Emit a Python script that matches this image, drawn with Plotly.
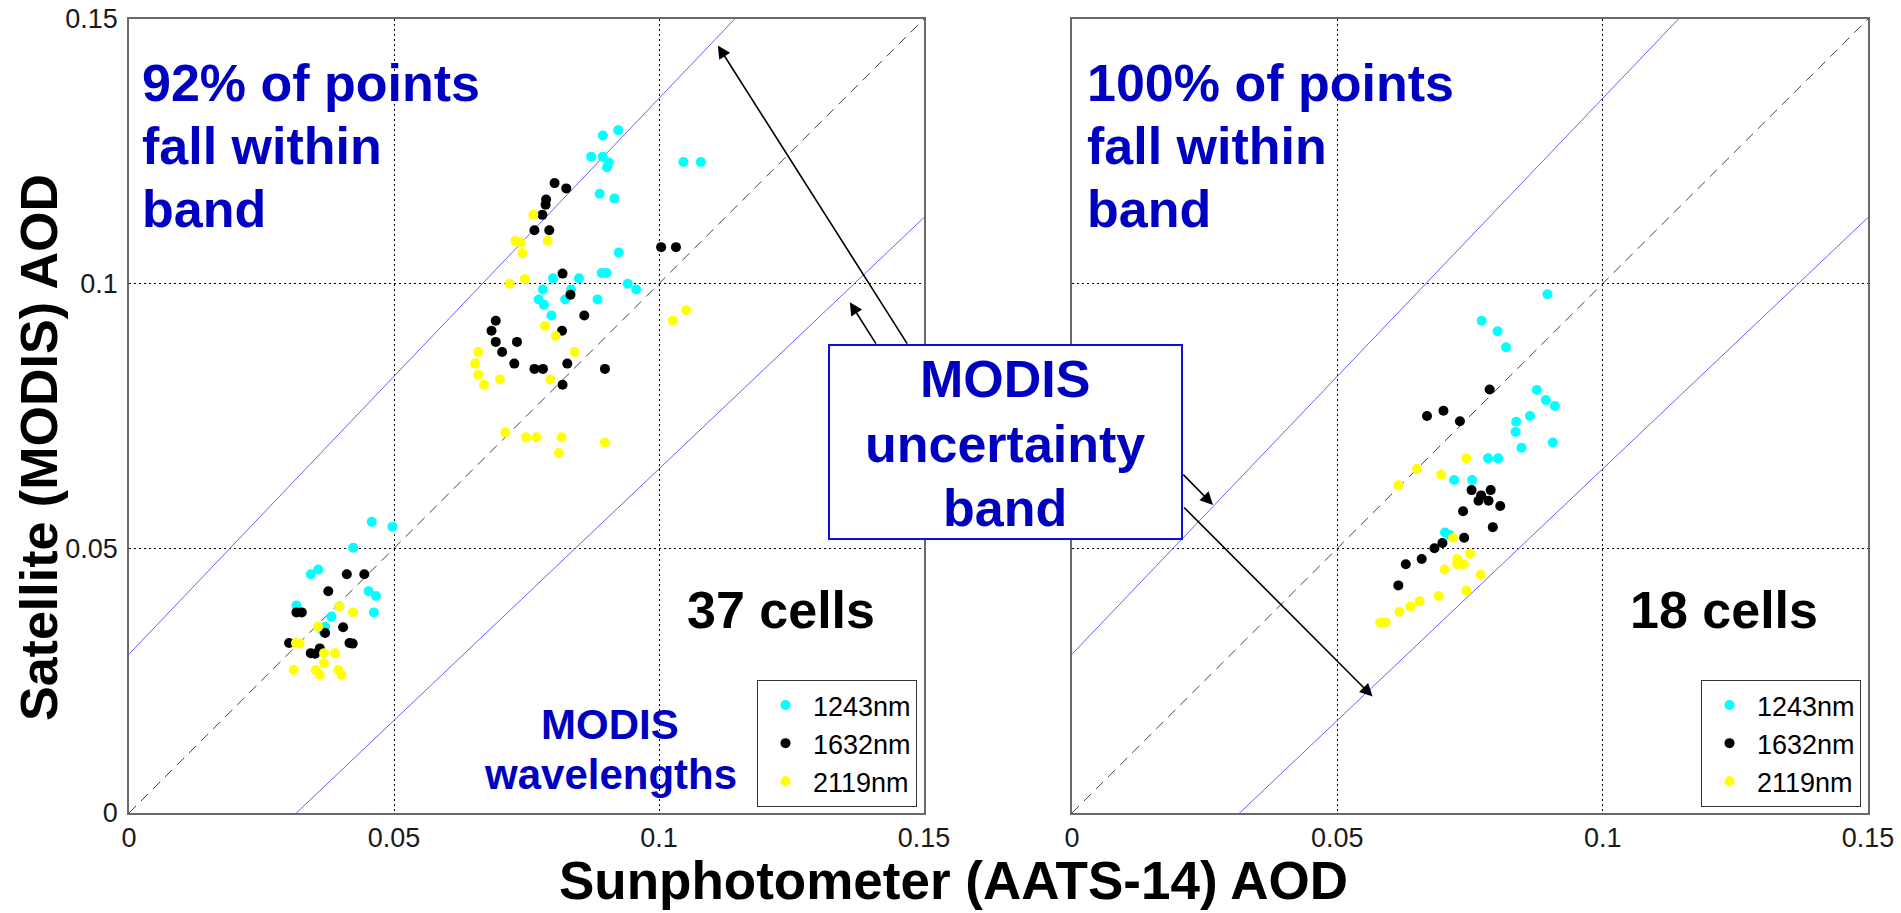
import plotly.graph_objects as go

W, H = 1901, 913
FONT = "Liberation Sans, Arial, sans-serif"
BLUE_TXT = "#0000C0"

wavelengths = ["1243nm", "1632nm", "2119nm"]
colors = ["#00FFFF", "#000000", "#FFFF00"]

# ---------------- Left panel (37 cells) ----------------
L_1243_x = [0.0923, 0.0894, 0.0872, 0.0894, 0.0905, 0.0902, 0.1046, 0.1079, 0.0888, 0.0916,
            0.0924, 0.0892, 0.0901, 0.0800, 0.0849, 0.0941, 0.0957, 0.0781, 0.0834, 0.0773,
            0.0783, 0.0823, 0.0884, 0.0797,
            0.0458, 0.0497, 0.0423, 0.0343, 0.0357, 0.0452, 0.0466, 0.0462, 0.0316, 0.0382,
            0.0370, 0.0397, 0.0365]
L_1243_y = [0.1290, 0.1280, 0.1240, 0.1240, 0.1229, 0.1220, 0.1230, 0.1230, 0.1170, 0.1161,
            0.1059, 0.1020, 0.1020, 0.1010, 0.1010, 0.1000, 0.0989, 0.0989, 0.0989, 0.0970,
            0.0960, 0.0970, 0.0970, 0.0940,
            0.0550, 0.0541, 0.0501, 0.0451, 0.0460, 0.0419, 0.0410, 0.0379, 0.0392, 0.0371,
            0.0352, 0.0390, 0.0345]

L_1632_x = [0.0803, 0.0825, 0.0787, 0.0786, 0.0780, 0.0765, 0.0793, 0.1004, 0.1032, 0.0818,
            0.0833, 0.0859, 0.0692, 0.0684, 0.0817, 0.0692, 0.0732, 0.0704, 0.0727, 0.0827,
            0.0765, 0.0781, 0.0898, 0.0818,
            0.0411, 0.0444, 0.0376, 0.0316, 0.0326, 0.0404, 0.0370, 0.0302, 0.0416, 0.0360,
            0.0343, 0.0351, 0.0422]
L_1632_y = [0.1190, 0.1180, 0.1159, 0.1149, 0.1130, 0.1101, 0.1101, 0.1069, 0.1069, 0.1019,
            0.0979, 0.0940, 0.0930, 0.0911, 0.0911, 0.0890, 0.0890, 0.0871, 0.0849, 0.0849,
            0.0839, 0.0839, 0.0839, 0.0809,
            0.0451, 0.0451, 0.0419, 0.0379, 0.0379, 0.0351, 0.0340, 0.0321, 0.0321, 0.0311,
            0.0302, 0.0301, 0.0320]

L_2119_x = [0.0763, 0.0729, 0.0739, 0.0790, 0.0742, 0.0718, 0.0747, 0.1026, 0.1051, 0.0785,
            0.0805, 0.0841, 0.0659, 0.0653, 0.0659, 0.0670, 0.0700, 0.0795, 0.0710, 0.0749,
            0.0769, 0.0816, 0.0811, 0.0898,
            0.0397, 0.0423, 0.0357, 0.0315, 0.0322, 0.0368, 0.0389, 0.0368, 0.0311, 0.0352,
            0.0395, 0.0360, 0.0401]
L_2119_y = [0.1130, 0.1081, 0.1078, 0.1081, 0.1058, 0.1000, 0.1009, 0.0930, 0.0950, 0.0920,
            0.0901, 0.0871, 0.0871, 0.0849, 0.0828, 0.0809, 0.0819, 0.0819, 0.0719, 0.0710,
            0.0710, 0.0710, 0.0680, 0.0700,
            0.0390, 0.0379, 0.0352, 0.0321, 0.0320, 0.0302, 0.0302, 0.0283, 0.0270, 0.0270,
            0.0270, 0.0261, 0.0261]

# ---------------- Right panel (18 cells) ----------------
R_1243_x = [0.0896, 0.0772, 0.0802, 0.0818, 0.0876, 0.0893, 0.0910, 0.0863, 0.0837, 0.0836,
            0.0847, 0.0906, 0.0784, 0.0803, 0.0720, 0.0754, 0.0703, 0.0712]
R_1243_y = [0.0980, 0.0930, 0.0910, 0.0880, 0.0799, 0.0780, 0.0769, 0.0750, 0.0739, 0.0720,
            0.0690, 0.0700, 0.0670, 0.0670, 0.0629, 0.0629, 0.0530, 0.0525]

R_1632_x = [0.0787, 0.0669, 0.0700, 0.0731, 0.0753, 0.0789, 0.0766, 0.0771, 0.0785, 0.0807,
            0.0737, 0.0793, 0.0739, 0.0698, 0.0683, 0.0659, 0.0629, 0.0615]
R_1632_y = [0.0800, 0.0750, 0.0760, 0.0740, 0.0610, 0.0610, 0.0590, 0.0600, 0.0590, 0.0580,
            0.0570, 0.0540, 0.0520, 0.0510, 0.0500, 0.0480, 0.0470, 0.0430]

R_2119_x = [0.0615, 0.0650, 0.0696, 0.0743, 0.0718, 0.0750, 0.0726, 0.0738, 0.0726, 0.0702,
            0.0770, 0.0743, 0.0691, 0.0655, 0.0638, 0.0617, 0.0581, 0.0591]
R_2119_y = [0.0619, 0.0650, 0.0639, 0.0670, 0.0520, 0.0490, 0.0480, 0.0470, 0.0470, 0.0460,
            0.0450, 0.0420, 0.0410, 0.0400, 0.0390, 0.0380, 0.0360, 0.0360]

# axes / reference lines
axis_range = [0.0, 0.15]
tick_vals = [0.0, 0.05, 0.1, 0.15]
tick_text = ["0", "0.05", "0.1", "0.15"]
band_offset = 0.03      # MODIS uncertainty: +/- (0.03 + 0.05*tau)
band_slope = 0.05

panels = [
    ("x", "y", "legend", [(L_1243_x, L_1243_y), (L_1632_x, L_1632_y), (L_2119_x, L_2119_y)]),
    ("x2", "y2", "legend2", [(R_1243_x, R_1243_y), (R_1632_x, R_1632_y), (R_2119_x, R_2119_y)]),
]

fig = go.Figure()
line_x = axis_range
for xa, ya, leg, series in panels:
    # 1:1 line
    fig.add_trace(go.Scatter(x=line_x, y=line_x, mode="lines", xaxis=xa, yaxis=ya,
                             line=dict(color="#444444", width=1, dash="10px,7px"),
                             showlegend=False, hoverinfo="skip"))
    # uncertainty band
    up = [v + band_offset + band_slope * v for v in line_x]
    lo = [v - band_offset - band_slope * v for v in line_x]
    for yy in (up, lo):
        fig.add_trace(go.Scatter(x=line_x, y=yy, mode="lines", xaxis=xa, yaxis=ya,
                                 line=dict(color="#6464FF", width=1),
                                 showlegend=False, hoverinfo="skip"))
    for (sx, sy), name, col in zip(series, wavelengths, colors):
        fig.add_trace(go.Scatter(x=sx, y=sy, mode="markers", name=name, xaxis=xa, yaxis=ya,
                                 legend=leg,
                                 marker=dict(color=col, size=10, line=dict(width=0))))


def px(xp):
    return xp / W


def py(yp):
    return 1 - yp / H


x_dom_L = [px(129), px(924)]
x_dom_R = [px(1072), px(1868)]
y_dom = [py(813), py(19)]

axis_common = dict(range=axis_range, tickvals=tick_vals, ticktext=tick_text,
                   showline=True, linecolor="#6a6a6a", linewidth=1.5, mirror=True,
                   showgrid=True, gridcolor="#000000", gridwidth=1, griddash="2px,3px",
                   zeroline=False, ticks="", automargin=False,
                   tickfont=dict(family=FONT, size=27, color="#1a1a1a"))

legend_common = dict(xanchor="right", yanchor="bottom", bgcolor="white",
                     bordercolor="#333333", borderwidth=1, itemwidth=45,
                     font=dict(family=FONT, size=27, color="black"), tracegroupgap=0)

fig.update_layout(
    template="none",
    width=W, height=H, autosize=False,
    margin=dict(l=0, r=0, t=0, b=0, pad=0, autoexpand=False),
    paper_bgcolor="white", plot_bgcolor="white",
    xaxis=dict(domain=x_dom_L, anchor="y", **axis_common),
    yaxis=dict(domain=y_dom, anchor="x", ticklabelstandoff=4, **axis_common),
    xaxis2=dict(domain=x_dom_R, anchor="y2", **axis_common),
    yaxis2=dict(domain=y_dom, anchor="x2", showticklabels=False, **axis_common),
    legend=dict(x=px(917), y=py(807), **legend_common),
    legend2=dict(x=px(1861), y=py(807), **legend_common),
)

# uncertainty text box
fig.add_shape(type="rect", xref="paper", yref="paper",
              x0=px(829), x1=px(1182), y0=py(539), y1=py(345),
              line=dict(color="#1010DD", width=2), fillcolor="white", layer="above")

ann = []


def txt(text, xp, yp, size, color, xanchor="center", angle=0):
    ann.append(dict(text=text, x=px(xp), y=py(yp), xref="paper", yref="paper",
                    xanchor=xanchor, yanchor="middle", showarrow=False, textangle=angle,
                    font=dict(family=FONT, size=size, color=color, weight="bold")))


for i, line in enumerate(["92% of points", "fall within", "band"]):
    txt(line, 140, 83 + 63 * i, 52, BLUE_TXT, xanchor="left")
for i, line in enumerate(["100% of points", "fall within", "band"]):
    txt(line, 1085, 83 + 63 * i, 52, BLUE_TXT, xanchor="left")
txt("37 cells", 781, 610, 52, "black")
txt("18 cells", 1724, 610, 52, "black")
txt("MODIS", 610, 724, 42, BLUE_TXT)
txt("wavelengths", 610, 774, 42, BLUE_TXT)
for i, line in enumerate(["MODIS", "uncertainty", "band"]):
    txt(line, 1005, 379 + 64.5 * i, 52, BLUE_TXT)
txt("Satellite (MODIS) AOD", 39, 448, 52, "black", angle=-90)
txt("Sunphotometer (AATS-14) AOD", 953, 880, 53, "black")

# arrows: (tip_x, tip_y, tail_x, tail_y, xref, yref) in data units
arrows = [
    (0.1111, 0.1450, 0.1470, 0.0884, "x", "y"),
    (0.1360, 0.0965, 0.1411, 0.0884, "x", "y"),
    (0.02657, 0.0582, 0.0207, 0.0642, "x2", "y2"),
    (0.05665, 0.0220, 0.02084, 0.0580, "x2", "y2"),
]
for tx, ty, ax, ay, xr, yr in arrows:
    ann.append(dict(text="", x=tx, y=ty, ax=ax, ay=ay, xref=xr, yref=yr,
                    axref=xr, ayref=yr, showarrow=True, arrowhead=2,
                    arrowsize=1.6, arrowwidth=1.6, arrowcolor="black", standoff=0))

fig.update_layout(annotations=ann)

fig.write_html("out.html", config={"displayModeBar": False},
               post_script="document.body.style.margin='0';document.body.style.overflow='hidden';")
